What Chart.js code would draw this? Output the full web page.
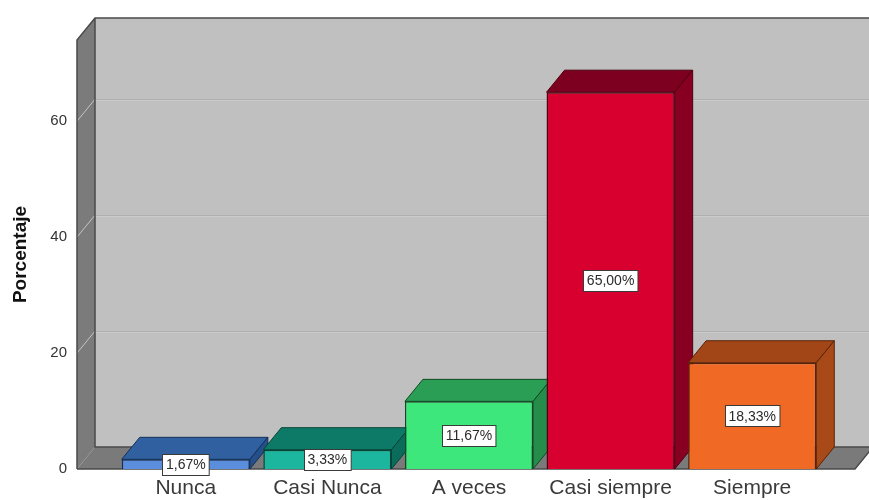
<!DOCTYPE html>
<html>
<head>
<meta charset="utf-8">
<script src="https://cdn.jsdelivr.net/npm/chart.js@4"></script>
<style>
  html, body { margin: 0; padding: 0; background: #fff; }
</style>
</head>
<body>
<canvas id="chart" width="869" height="500"></canvas>
<script>
const categories = ["Nunca", "Casi Nunca", "A veces", "Casi siempre", "Siempre"];
const percentages = [1.67, 3.33, 11.67, 65.00, 18.33];
const yTicks = [0, 20, 40, 60];

const frontColors = ["#5b8fdd", "#1cb59e", "#3ee77b", "#d7002f", "#f06a26"];
const topColors = ["#30609f", "#0d7a68", "#2b9e55", "#7d0020", "#a34617"];
const sideColors = ["#254f8a", "#0a6d5c", "#258c4a", "#870022", "#a84918"];
const edgeColors = ["#14305a", "#064538", "#0f4a22", "#4d0012", "#5a2308"];

// profundidad del efecto 3D
const DX = 18;
const DY = -22;

Chart.defaults.font.family = "'Liberation Sans', Arial, sans-serif";

function poly(ctx, pts, fill, stroke) {
  ctx.beginPath();
  ctx.moveTo(pts[0][0], pts[0][1]);
  for (let i = 1; i < pts.length; i++) ctx.lineTo(pts[i][0], pts[i][1]);
  ctx.closePath();
  if (fill) { ctx.fillStyle = fill; ctx.fill(); }
  if (stroke) { ctx.strokeStyle = stroke; ctx.lineWidth = 1; ctx.stroke(); }
}

const box3d = {
  id: "box3d",
  beforeDatasetsDraw(chart) {
    const { ctx, chartArea: a, scales: { y } } = chart;
    const W = chart.width;
    const x0 = a.left - 38;
    const x1 = a.right + 32;
    const yb = y.getPixelForValue(0);
    const yt = a.top;
    ctx.save();
    // pared del fondo
    poly(ctx, [[x0 + DX, yt + DY], [W + 2, yt + DY], [W + 2, yb + DY], [x0 + DX, yb + DY]], "#c0c0c0");
    // lineas de cuadricula
    yTicks.forEach((v) => {
      if (v === 0) return;
      const yy = Math.round(y.getPixelForValue(v)) + 0.5;
      ctx.strokeStyle = "#b0b0b0";
      ctx.lineWidth = 1;
      ctx.beginPath();
      ctx.moveTo(x0 + DX, yy + DY);
      ctx.lineTo(W, yy + DY);
      ctx.stroke();
      ctx.strokeStyle = "#cbcbcb";
      ctx.beginPath();
      ctx.moveTo(x0 + DX, yy + DY + 1);
      ctx.lineTo(W, yy + DY + 1);
      ctx.stroke();
    });
    // pared izquierda
    poly(ctx, [[x0, yt], [x0 + DX, yt + DY], [x0 + DX, yb + DY], [x0, yb]], "#7b7b7b");
    yTicks.forEach((v) => {
      if (v === 0) return;
      const yy = y.getPixelForValue(v);
      ctx.strokeStyle = "#c4c4c4";
      ctx.lineWidth = 1;
      ctx.beginPath();
      ctx.moveTo(x0, yy);
      ctx.lineTo(x0 + DX, yy + DY);
      ctx.stroke();
    });
    // suelo
    poly(ctx, [[x0, yb], [x0 + DX, yb + DY], [x1 + DX, yb + DY], [x1, yb]], "#7a7a7a");
    // bordes
    ctx.strokeStyle = "#4a4a4a";
    ctx.lineWidth = 1.5;
    ctx.beginPath();
    ctx.moveTo(x0, yb);
    ctx.lineTo(x0, yt);
    ctx.lineTo(x0 + DX, yt + DY);
    ctx.lineTo(W, yt + DY);
    ctx.stroke();
    ctx.beginPath();
    ctx.moveTo(x0 + DX, yt + DY);
    ctx.lineTo(x0 + DX, yb + DY);
    ctx.lineTo(W, yb + DY);
    ctx.stroke();
    ctx.beginPath();
    ctx.moveTo(x0, yb);
    ctx.lineTo(x1, yb);
    ctx.lineTo(x1 + DX, yb + DY);
    ctx.stroke();

    // caras superior y lateral de las barras
    const meta = chart.getDatasetMeta(0);
    meta.data.forEach((bar, i) => {
      const p = bar.getProps(["x", "y", "base", "width"], true);
      const l = p.x - p.width / 2;
      const r = p.x + p.width / 2;
      poly(ctx, [[l, p.y], [l + DX, p.y + DY], [r + DX, p.y + DY], [r, p.y]], topColors[i], edgeColors[i]);
      poly(ctx, [[r, p.y], [r + DX, p.y + DY], [r + DX, p.base + DY], [r, p.base]], sideColors[i], edgeColors[i]);
    });
    ctx.restore();
  },
  afterDatasetsDraw(chart) {
    const { ctx } = chart;
    const meta = chart.getDatasetMeta(0);
    ctx.save();
    ctx.font = "14px 'Liberation Sans', Arial, sans-serif";
    ctx.textAlign = "center";
    ctx.textBaseline = "middle";
    meta.data.forEach((bar, i) => {
      const p = bar.getProps(["x", "y", "base"], true);
      const txt = percentages[i].toFixed(2).replace(".", ",") + "%";
      const cy = (p.y + p.base) / 2;
      const w = ctx.measureText(txt).width + 7;
      const h = 21;
      const bx = Math.round(p.x - w / 2) + 0.5;
      const by = Math.round(cy - h / 2) + 0.5;
      ctx.fillStyle = "#ffffff";
      ctx.fillRect(bx, by, w, h);
      ctx.strokeStyle = "#3a3a3a";
      ctx.lineWidth = 1;
      ctx.strokeRect(bx, by, w, h);
      ctx.fillStyle = "#2a2a2a";
      ctx.fillText(txt, p.x, cy + 1);
    });
    ctx.restore();
  }
};

new Chart(document.getElementById("chart"), {
  type: "bar",
  data: {
    labels: categories,
    datasets: [
      {
        label: "Porcentaje",
        data: percentages,
        backgroundColor: frontColors,
        borderColor: edgeColors,
        borderWidth: 1.5,
        categoryPercentage: 1,
        barPercentage: 0.905,
      },
    ],
  },
  options: {
    responsive: false,
    animation: false,
    layout: { autoPadding: false, padding: { top: 40, right: 46, left: 0, bottom: 0 } },
    plugins: { legend: { display: false }, tooltip: { enabled: false } },
    scales: {
      x: {
        grid: { display: false, drawTicks: false },
        border: { display: false },
        ticks: { color: "#3a3a3a", font: { size: 21 }, padding: 7 },
        afterFit: (s) => { s.height = 31; },
      },
      y: {
        min: 0,
        max: 74,
        grid: { display: false, drawTicks: false },
        border: { display: false },
        ticks: { color: "#333333", font: { size: 15 }, padding: 48 },
        afterBuildTicks: (s) => { s.ticks = yTicks.map((v) => ({ value: v })); },
        afterFit: (s) => {
          s.width = 115;
          s.paddingTop = 0;
          s.paddingBottom = 0;
        },
        title: {
          display: true,
          text: "Porcentaje",
          color: "#111111",
          font: { size: 19, weight: "bold" },
          padding: { top: 9 },
        },
      },
    },
  },
  plugins: [box3d],
});
</script>
</body>
</html>
